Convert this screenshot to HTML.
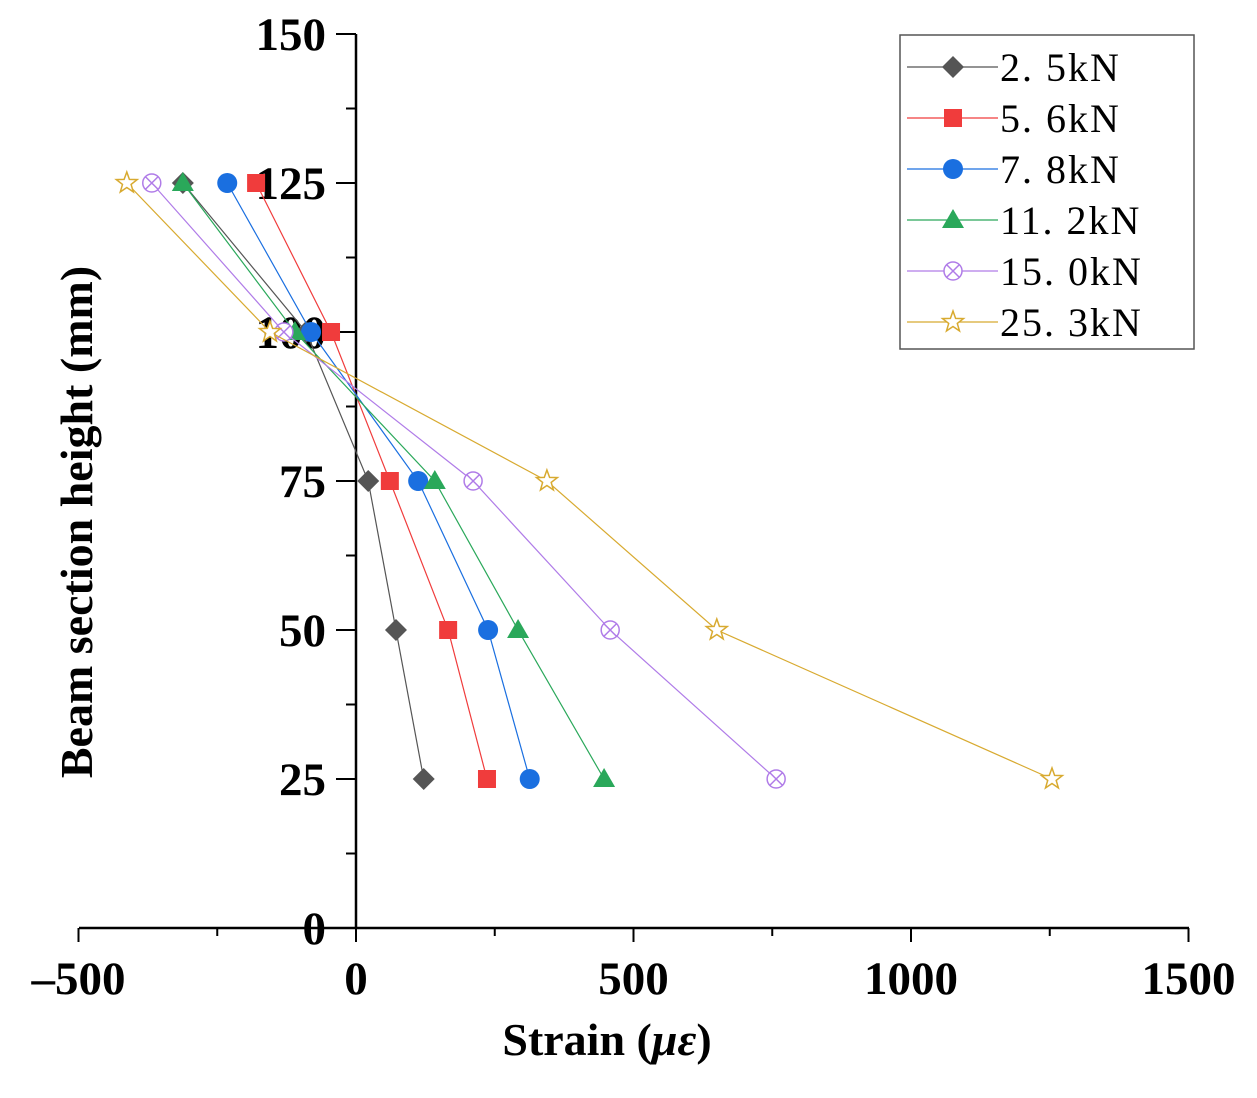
<!DOCTYPE html>
<html><head><meta charset="utf-8"><style>
body{margin:0;background:#fff}
svg{display:block}
text{font-family:"Liberation Serif",serif;font-weight:bold;fill:#000}
</style></head><body>
<svg id="c" width="1257" height="1098"></svg>
<script>
const heights=[125,100,75,50,25];
const s1=[-312,-90,22,72,122];
const s2=[-180,-45,61,166,236];
const s3=[-232,-81,112,238,313];
const s4=[-312,-110,142,292,447];
const s5=[-368,-130,211,458,757];
const s6=[-413,-155,344,650,1254];
const seriesNames=["2. 5kN","5. 6kN","7. 8kN","11. 2kN","15. 0kN","25. 3kN"];
const xTicks=[-500,0,500,1000,1500];
const yTicks=[0,25,50,75,100,125,150];
const NS="http://www.w3.org/2000/svg";
const svg=document.getElementById('c');
const X=v=>356+(v)*(1189-79)/2000;
const Y=v=>928-v*(928-34)/150;
function el(t,a,p){const e=document.createElementNS(NS,t);for(const k in a)e.setAttribute(k,a[k]);(p||svg).appendChild(e);return e;}
let ax=el('line',{x1:79,y1:928,x2:1189,y2:928,stroke:'#000','stroke-width':2.5});

let ay=el('line',{x1:X(0),y1:928,x2:X(0),y2:34,stroke:'#000','stroke-width':2.5});

for(let v=-500;v<=1500;v+=250){const maj=v%500===0;el('line',{x1:X(v),x2:X(v),y1:928,y2:928+(maj?14:8),stroke:'#000','stroke-width':2});}
xTicks.forEach(v=>{const t=el('text',{x:X(v),y:994,'text-anchor':'middle','font-size':47});t.textContent=(v<0?'\u2013'+(-v):v);
});
for(let v=0;v<=150;v+=12.5){const maj=v%25===0;el('line',{x1:X(0),x2:X(0)-(maj?20:10),y1:Y(v),y2:Y(v),stroke:'#000','stroke-width':2});}
yTicks.forEach(v=>{const t=el('text',{x:326,y:Y(v)+16,'text-anchor':'end','font-size':47});t.textContent=v;
});
let xt=el('text',{x:607,y:1055,'text-anchor':'middle','font-size':46});xt.innerHTML='Strain (<tspan font-style="italic">\u03bc\u03b5</tspan>)';

let yt=el('text',{x:0,y:0,'text-anchor':'middle','font-size':46,transform:'translate(92,522) rotate(-90)'});yt.textContent='Beam section height (mm)';

const data=[s1,s2,s3,s4,s5,s6];
const cols=['#555','#f03c3c','#1a6fe0','#2aa85a','#b07ce8','#d8aa30'];
const mk=['diamond','square','circle','triangle','xcircle','star'];
function marker(type,x,y,c,g){
 if(type==='diamond')el('polygon',{points:`${x},${y-11} ${x+11},${y} ${x},${y+11} ${x-11},${y}`,fill:c},g);
 else if(type==='square')el('rect',{x:x-9,y:y-9,width:18,height:18,fill:c},g);
 else if(type==='circle')el('circle',{cx:x,cy:y,r:10,fill:c},g);
 else if(type==='triangle')el('polygon',{points:`${x},${y-11} ${x+11},${y+8} ${x-11},${y+8}`,fill:c},g);
 else if(type==='xcircle'){el('circle',{cx:x,cy:y,r:9,fill:'#fff',stroke:c,'stroke-width':1.5},g);
  el('path',{d:`M${x-6.4},${y-6.4}L${x+6.4},${y+6.4}M${x+6.4},${y-6.4}L${x-6.4},${y+6.4}`,stroke:c,'stroke-width':1.5},g);}
 else {let p=[];for(let i=0;i<10;i++){const r=i%2?4.5:11,a=-Math.PI/2+i*Math.PI/5;p.push((x+r*Math.cos(a)).toFixed(1)+','+(y+r*Math.sin(a)).toFixed(1));}
  el('polygon',{points:p.join(' '),fill:'#fff',stroke:c,'stroke-width':1.5},g);}
}
data.forEach((d,i)=>{const g=el('g',{});
 
 el('polyline',{points:d.map((v,j)=>X(v)+','+Y(heights[j])).join(' '),fill:'none',stroke:cols[i],'stroke-width':1.2},g);
 d.forEach((v,j)=>marker(mk[i],X(v),Y(heights[j]),cols[i],g));
});
const lg=el('g',{});
el('rect',{x:900,y:35,width:294,height:314,fill:'#fff',stroke:'#555','stroke-width':1.5},lg);
seriesNames.forEach((n,i)=>{const y=67+i*51;const g=el('g',{},lg);
 
 el('line',{x1:907,x2:998,y1:y,y2:y,stroke:cols[i],'stroke-width':1.2},g);
 marker(mk[i],953,y,cols[i],g);
 const t=el('text',{x:1000,y:y+14,'font-size':40,style:'font-weight:normal;letter-spacing:2px;font-family:"Liberation Serif","Noto Serif CJK SC",serif'},g);t.textContent=n;});
</script>
</body></html>
